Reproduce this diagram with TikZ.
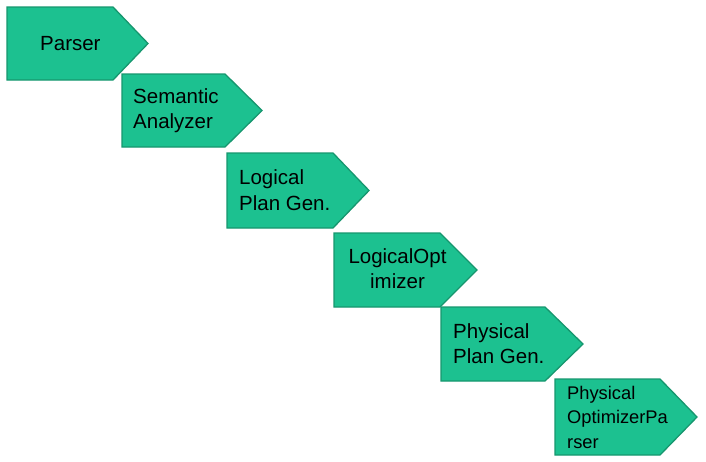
\documentclass[tikz,border=0pt]{standalone}
\usepackage{fontspec}
\setmainfont{Liberation Sans}
\definecolor{boxfill}{RGB}{28,193,144}
\definecolor{boxline}{RGB}{22,150,110}
\begin{document}
\begin{tikzpicture}[x=1pt,y=-1pt,
  chev/.style={fill=boxfill,draw=boxline,line width=1.3pt,line join=miter},
  lbl/.style={inner sep=0pt,anchor=base west,font=\fontsize{20.5}{25}\selectfont,text=black},
  lblc/.style={lbl,anchor=base},
  lbls/.style={lbl,font=\fontsize{18.3}{24}\selectfont}]
\useasboundingbox (0,0) rectangle (706,461);
% shapes: left, top, body right, tip, bottom
\draw[chev] (7,7) -- (113,7) -- (148,43.5) -- (113,80) -- (7,80) -- cycle;
\draw[chev] (122,74) -- (225,74) -- (262,110.5) -- (225,147) -- (122,147) -- cycle;
\draw[chev] (227,153) -- (333,153) -- (369,190.5) -- (333,228) -- (227,228) -- cycle;
\draw[chev] (334,233) -- (440,233) -- (477,270) -- (440,307) -- (334,307) -- cycle;
\draw[chev] (441,307) -- (545,307) -- (583,344) -- (545,381) -- (441,381) -- cycle;
\draw[chev] (555,379) -- (660,379) -- (697,417) -- (660,455) -- (555,455) -- cycle;
% labels
\node[lbl] (t1) at (40,50) {Parser};
\node[lbl] (t2a) at (133,103) {Semantic};
\node[lbl] (t2b) at (133,128) {Analyzer};
\node[lbl] (t3a) at (239,184) {Logical};
\node[lbl] (t3b) at (239,210) {Plan Gen.};
\node[lblc] (t4a) at (397.5,263) {LogicalOpt};
\node[lblc] (t4b) at (397.5,288) {imizer};
\node[lbl] (t5a) at (453,338) {Physical};
\node[lbl] (t5b) at (453,363) {Plan Gen.};
\node[lbls] (t6a) at (567,399) {Physical};
\node[lbls] (t6b) at (567,423) {OptimizerPa};
\node[lbls] (t6c) at (567,448) {rser};
\end{tikzpicture}
\end{document}
